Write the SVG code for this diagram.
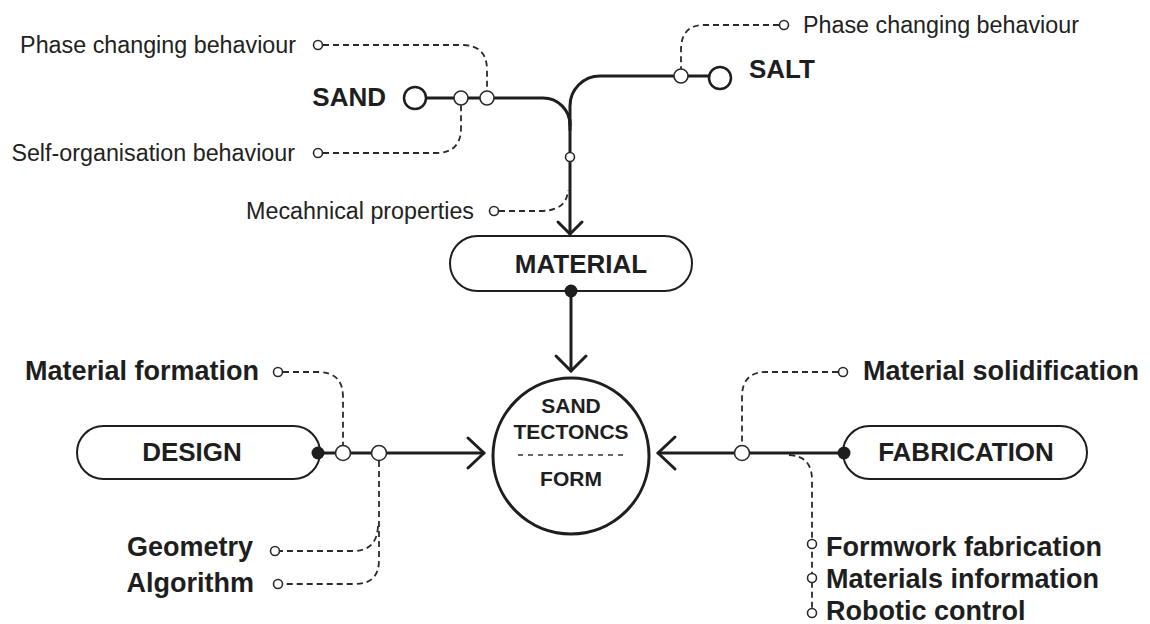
<svg xmlns="http://www.w3.org/2000/svg" width="1150" height="624" viewBox="0 0 1150 624">
<style>
.bg{fill:#ffffff}
.main{fill:none;stroke:#1e1e1e;stroke-width:3;stroke-linecap:round;stroke-linejoin:round}
.dash{fill:none;stroke:#2a2a2a;stroke-width:1.8;stroke-dasharray:6 4}
.pill{fill:#ffffff;stroke:#1e1e1e;stroke-width:2}
.ring{fill:#ffffff;stroke:#1e1e1e;stroke-width:2.5}
.sm{fill:#ffffff;stroke:#2a2a2a;stroke-width:1.6}
.dot{fill:#1e1e1e}
.reg{font-family:"Liberation Sans",Arial,sans-serif;font-size:23.3px;fill:#222}
.bold{font-family:"Liberation Sans",Arial,sans-serif;font-size:26px;font-weight:bold;fill:#1e1e1e}
.lab{font-family:"Liberation Sans",Arial,sans-serif;font-size:27px;font-weight:bold;fill:#1e1e1e}
.ctr{font-family:"Liberation Sans",Arial,sans-serif;font-size:21px;font-weight:bold;fill:#1e1e1e;text-anchor:middle}
</style>
<rect class="bg" x="0" y="0" width="1150" height="624"/>

<g id="connectors">
  <path class="main" d="M426,98 H543 A27,27 0 0 1 570,125"/>
  <path class="main" d="M570,130 V106 A30,30 0 0 1 600,76 H709"/>
  <path class="main" d="M570,120 V234"/>
  <path class="main" d="M558,222 L570,234 L582,222"/>
  <path class="main" d="M571,291 V371"/>
  <path class="main" d="M556,356 L571,371 L586,356"/>
  <path class="main" d="M318,453 H484"/>
  <path class="main" d="M468,438 L484,453 L468,468"/>
  <path class="main" d="M844,453 H658"/>
  <path class="main" d="M675,437 L658,453 L675,469"/>

  <path class="dash" d="M323,45 H462 Q487,45 487,70 V91"/>
  <path class="dash" d="M323,153 H436 Q461,153 461,128 V105"/>
  <path class="dash" d="M499,211 H540 Q567,211 568,190"/>
  <path class="dash" d="M779,25 H704 Q681,25 681,50 V70"/>
  <path class="dash" d="M283,372 H318 Q343,372 343,397 V446"/>
  <path class="dash" d="M379,461 V560 Q379,584 355,584 H283"/>
  <path class="dash" d="M378,526 Q377,551 353,551 H280"/>
  <path class="dash" d="M838,372 H766 Q742,372 742,397 V446"/>
  <path class="dash" d="M789,455 Q812,456 812,480 V609"/>

  <circle class="ring" cx="415" cy="98" r="11"/>
  <circle class="sm" cx="461" cy="98" r="7" stroke-width="2"/>
  <circle class="sm" cx="487" cy="98" r="7" stroke-width="2"/>
  <circle class="sm" cx="681" cy="76" r="7" stroke-width="2"/>
  <circle class="ring" cx="720" cy="78" r="11"/>
  <circle class="sm" cx="570" cy="157" r="4.5"/>
  <circle class="sm" cx="318" cy="45" r="4.5"/>
  <circle class="sm" cx="318" cy="153" r="4.5"/>
  <circle class="sm" cx="494" cy="211" r="4.5"/>
  <circle class="sm" cx="784" cy="25" r="4.5"/>
  <circle class="sm" cx="343" cy="453" r="7.5" stroke-width="2"/>
  <circle class="sm" cx="379" cy="453" r="7.5" stroke-width="2"/>
  <circle class="sm" cx="742" cy="453" r="7.5" stroke-width="2"/>
  <circle class="sm" cx="278" cy="372" r="4.5"/>
  <circle class="sm" cx="275" cy="551" r="4.5"/>
  <circle class="sm" cx="278" cy="584" r="4.5"/>
  <circle class="sm" cx="843" cy="372" r="4.5"/>
  <circle class="sm" cx="812" cy="544" r="4.5"/>
  <circle class="sm" cx="812" cy="578" r="4.5"/>
  <circle class="sm" cx="812" cy="613" r="4.5"/>
</g>

<g id="sand">
  <text class="bold" x="386" y="106" font-size="26.5" text-anchor="end">SAND</text>
</g>
<g id="salt">
  <text class="bold" x="749" y="78" font-size="26.5">SALT</text>
</g>
<g id="sand-phase">
  <text class="reg" x="296" y="53" text-anchor="end">Phase changing behaviour</text>
</g>
<g id="sand-self">
  <text class="reg" x="295" y="161" text-anchor="end">Self-organisation behaviour</text>
</g>
<g id="mechanical">
  <text class="reg" x="474" y="219" text-anchor="end">Mecahnical properties</text>
</g>
<g id="salt-phase">
  <text class="reg" x="803" y="33">Phase changing behaviour</text>
</g>

<g id="material">
  <rect class="pill" x="450" y="236" width="242" height="55" rx="27.5"/>
  <text class="bold" x="581" y="273" text-anchor="middle">MATERIAL</text>
  <circle class="dot" cx="571" cy="291" r="6.5"/>
</g>

<g id="design">
  <rect class="pill" x="77" y="426" width="243" height="53" rx="26.5"/>
  <text class="bold" x="192" y="461" text-anchor="middle">DESIGN</text>
  <circle class="dot" cx="318" cy="453" r="6.5"/>
</g>

<g id="fabrication">
  <rect class="pill" x="843" y="426" width="244" height="53" rx="26.5"/>
  <text class="bold" x="966" y="461" text-anchor="middle">FABRICATION</text>
  <circle class="dot" cx="844" cy="453" r="6.5"/>
</g>

<g id="centre">
  <circle cx="571" cy="456" r="78" fill="#ffffff" stroke="#1e1e1e" stroke-width="3"/>
  <text class="ctr" x="571" y="413">SAND</text>
  <text class="ctr" x="571" y="439">TECTONCS</text>
  <line x1="518" y1="455" x2="624" y2="455" stroke="#333" stroke-width="1.3" stroke-dasharray="5 5"/>
  <text class="ctr" x="571" y="486">FORM</text>
</g>

<g id="material-formation">
  <text class="lab" x="259" y="380" text-anchor="end">Material formation</text>
</g>
<g id="geometry">
  <text class="lab" x="253" y="556" text-anchor="end">Geometry</text>
</g>
<g id="algorithm">
  <text class="lab" x="254" y="592" text-anchor="end">Algorithm</text>
</g>
<g id="material-solidification">
  <text class="lab" x="863" y="380">Material solidification</text>
</g>
<g id="formwork">
  <text class="lab" x="826" y="556">Formwork fabrication</text>
</g>
<g id="materials-info">
  <text class="lab" x="826" y="588">Materials information</text>
</g>
<g id="robotic">
  <text class="lab" x="826" y="620">Robotic control</text>
</g>
</svg>
